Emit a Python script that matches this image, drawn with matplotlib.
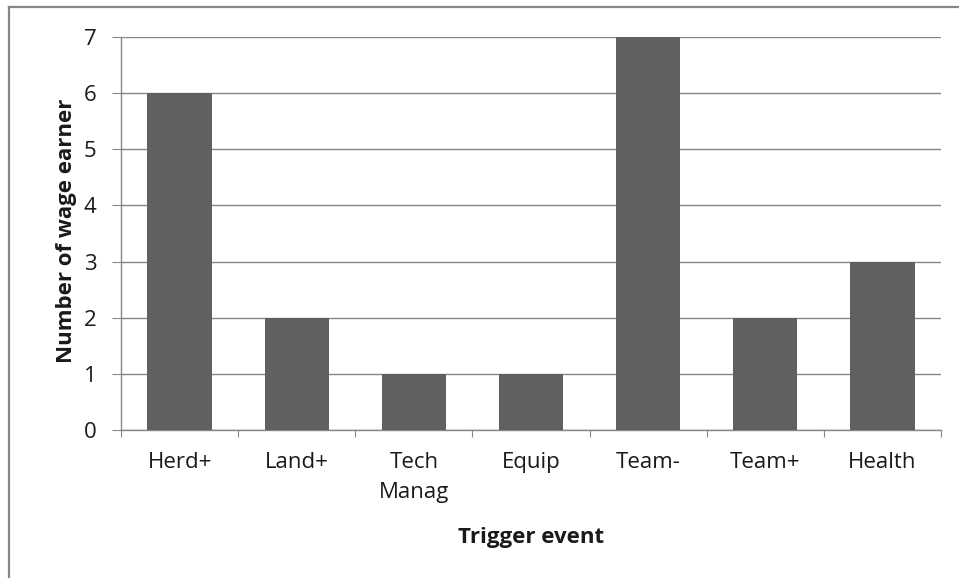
import matplotlib
matplotlib.use('Agg')
import matplotlib.pyplot as plt
from matplotlib.lines import Line2D

# Datos del grafico
eventos = ["Herd+", "Land+", "Tech\nManag", "Equip", "Team-", "Team+", "Health"]
cantidad = [6, 2, 1, 1, 7, 2, 3]
marcas_y = [0, 1, 2, 3, 4, 5, 6, 7]

plt.rcParams['font.family'] = ['Open Sans', 'DejaVu Sans']

W, H = 959, 578
fig = plt.figure(figsize=(W / 100, H / 100), dpi=100)
ax = fig.add_axes([121 / W, 1 - 430 / H, 820 / W, 393 / H])

# Borde exterior (solo se ve arriba y a la izquierda)
fig.lines.append(Line2D([9 / W, 9 / W], [0, 1 - 7 / H], transform=fig.transFigure,
                        color='#868686', linewidth=1.6))
fig.lines.append(Line2D([9 / W, 1], [1 - 7 / H, 1 - 7 / H], transform=fig.transFigure,
                        color='#868686', linewidth=1.6))

pos = list(range(len(eventos)))
ax.bar(pos, cantidad, width=0.55, color='#606060', zorder=3)

ax.set_xlim(-0.5, len(eventos) - 0.5)
ax.set_ylim(0, 7)
ax.set_yticks(marcas_y)
ax.yaxis.grid(True, color='#868686', linewidth=1, zorder=0)

ax.set_xticks([p - 0.5 for p in pos] + [len(eventos) - 0.5])
ax.set_xticklabels([])
ax.set_xticks(pos, minor=True)
ax.set_xticklabels(eventos, minor=True, fontsize=16, color='#1a1a1a',
                   linespacing=1.55)
ax.tick_params(axis='x', which='minor', length=0, pad=16)
ax.tick_params(axis='x', which='major', length=5, color='#868686', direction='out')
ax.tick_params(axis='y', length=6.5, color='#868686', direction='out',
               labelsize=16, labelcolor='#1a1a1a', pad=11)

for lado in ['top', 'right']:
    ax.spines[lado].set_visible(False)
for lado in ['left', 'bottom']:
    ax.spines[lado].set_color('#868686')
    ax.spines[lado].set_linewidth(1)

ax.set_ylabel("Number of wage earner", fontsize=16, fontweight='bold',
              color='#1a1a1a')
ax.set_xlabel("Trigger event", fontsize=16, fontweight='bold',
              color='#1a1a1a')
ax.yaxis.set_label_coords(67 / W, 1 - 231 / H, transform=fig.transFigure)
ax.xaxis.set_label_coords(531 / W, 1 - 537 / H, transform=fig.transFigure)
ax.xaxis.label.set_va('center')
ax.yaxis.label.set_va('center')

fig.savefig("out.png", dpi=100)
